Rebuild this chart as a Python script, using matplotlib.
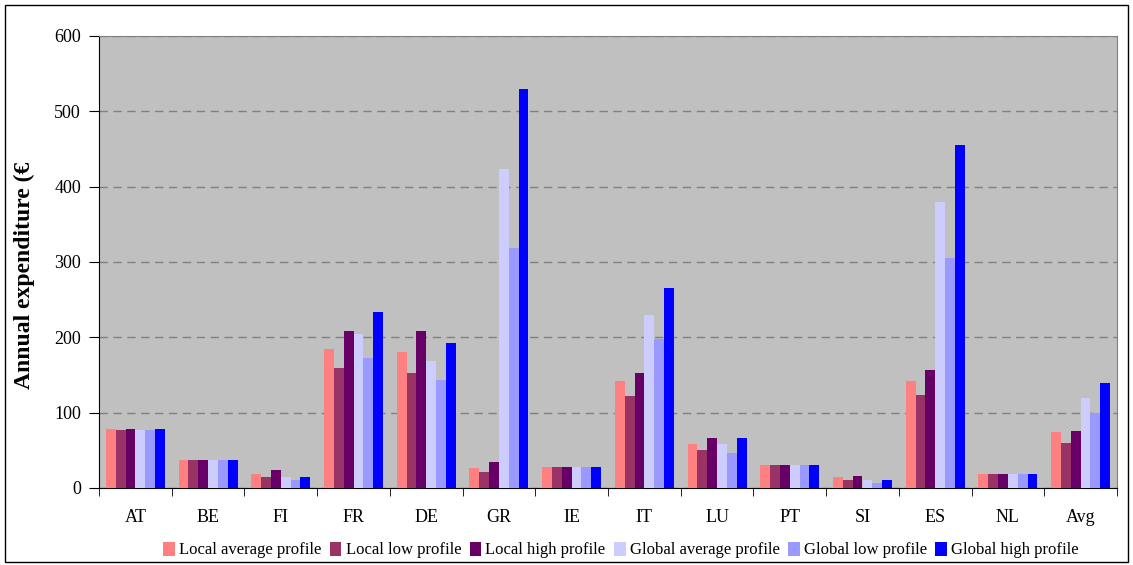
import numpy as np
import matplotlib
matplotlib.use("Agg")
import matplotlib.pyplot as plt
from matplotlib.patches import Rectangle

plt.rcParams['font.family'] = ['Liberation Serif', 'DejaVu Serif']

# data
paises = ['AT', 'BE', 'FI', 'FR', 'DE', 'GR', 'IE', 'IT', 'LU', 'PT', 'SI', 'ES', 'NL', 'Avg']
local_medio = [78, 37, 19, 185, 181, 27, 28, 142, 58, 30, 15, 142, 19, 74]
local_baixo = [77, 37, 15, 159, 152, 21, 28, 122, 50, 30, 11, 124, 19, 60]
local_alto = [78, 37, 24, 209, 208, 34, 28, 152, 67, 30, 16, 156, 19, 76]
global_medio = [77, 37, 14, 204, 168, 423, 28, 230, 58, 30, 10, 380, 19, 120]
global_baixo = [77, 37, 11, 173, 143, 318, 28, 198, 47, 30, 7, 305, 19, 99]
global_alto = [78, 37, 15, 234, 192, 529, 28, 265, 67, 30, 11, 455, 19, 139]

series = [local_medio, local_baixo, local_alto, global_medio, global_baixo, global_alto]
nomes = ['Local average profile', 'Local low profile', 'Local high profile',
         'Global average profile', 'Global low profile', 'Global high profile']
cores = ['#FF8080', '#993366', '#660066', '#CCCCFF', '#9999FF', '#0000FF']

fig = plt.figure(figsize=(11.33, 5.65), dpi=100)
ax = fig.add_axes([99/1133, 1 - 488/565, (1117-99)/1133, (488-36)/565])
ax.set_facecolor('#C0C0C0')

x = np.arange(len(paises))
larg = 0.135
for i, (vals, nome, cor) in enumerate(zip(series, nomes, cores)):
    ax.bar(x + (i - 2.5) * larg, vals, larg, color=cor, label=nome, zorder=3)

ax.set_xlim(-0.5, len(paises) - 0.5)
ax.set_ylim(0, 600)
ax.set_yticks(range(0, 601, 100))
ax.yaxis.grid(True, linestyle=(0, (6, 4)), color='#808080', linewidth=1, zorder=1)
ax.set_xticks(x)
ax.set_xticklabels(paises, fontsize=13)
ax.tick_params(axis='x', which='major', length=0, pad=15)
ax.set_xticks(np.arange(-0.5, len(paises), 1), minor=True)
ax.tick_params(axis='x', which='minor', length=6, direction='out')
ax.tick_params(axis='y', labelsize=13, length=7, direction='out', pad=6)
ax.set_ylabel('Annual expenditure (€', fontsize=17, fontweight='bold')
ax.yaxis.set_label_coords(-64/1018, 0.47)

for s in ['top', 'right']:
    ax.spines[s].set_color('#808080')
for s in ['left', 'bottom']:
    ax.spines[s].set_color('black')

ax.legend(loc='center', bbox_to_anchor=(621/1133, 1 - 550/565), bbox_transform=fig.transFigure,
          ncol=6, frameon=False, fontsize=12, handlelength=0.7, handleheight=0.9,
          handletextpad=0.25, columnspacing=0.5, borderpad=0)

fig.patches.append(Rectangle((5/1133, 3/565), 1 - 10/1133, 1 - 8/565, transform=fig.transFigure,
                             fill=False, edgecolor='black', linewidth=1))

fig.savefig('out.png', dpi=100)
